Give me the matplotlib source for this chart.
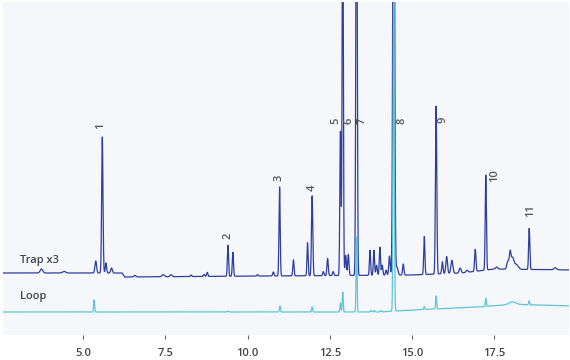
import numpy as np
import matplotlib.pyplot as plt

# retention time (min), peak height, peak width (sigma, min)
trap_rt = [3.73, 4.42, 5.38, 5.58, 5.69, 5.86, 6.57, 7.43, 7.67, 8.28, 8.67, 8.77,
           9.40, 9.55, 10.30, 10.78, 10.97, 11.39, 11.82, 11.96, 12.30, 12.43,
           12.60, 12.82, 12.89, 12.98, 13.06, 13.31, 13.72, 13.84, 13.92, 14.02,
           14.09, 14.21, 14.31, 14.44, 14.54, 14.73, 15.37, 15.73, 15.92, 16.05,
           16.21, 16.46, 16.67, 16.92, 17.24, 17.57, 17.91, 17.98, 18.05, 18.16,
           18.56, 19.35]
trap_h = [4, 1.5, 12, 136, 10, 5, 1.5, 2, 2, 1.5, 2, 4,
          31, 24, 1.5, 4, 89, 16, 33, 80, 4, 17,
          4, 144, 400, 20, 21, 500, 25, 25, 10, 28,
          10, 5, 19, 600, 8, 11, 38, 168, 12, 17,
          13, 5, 2, 22, 95, 2, 8, 16, 11, 5,
          41, 2]
trap_w = [0.04, 0.05, 0.025, 0.02, 0.02, 0.025, 0.03, 0.04, 0.03, 0.02, 0.02, 0.02,
          0.018, 0.018, 0.02, 0.02, 0.018, 0.018, 0.017, 0.02, 0.02, 0.02,
          0.02, 0.018, 0.018, 0.02, 0.02, 0.02, 0.018, 0.018, 0.02, 0.018,
          0.02, 0.02, 0.02, 0.025, 0.03, 0.02, 0.018, 0.02, 0.02, 0.025,
          0.03, 0.03, 0.03, 0.02, 0.018, 0.03, 0.03, 0.025, 0.04, 0.06,
          0.018, 0.04]
trap_base_t = [2.5, 6.18, 6.26, 15.0, 16.5, 17.5, 19.9]
trap_base_y = [62, 62, 58, 60, 62, 66, 65]

loop_rt = [5.33, 9.40, 10.98, 11.96, 12.82, 12.89, 13.31, 13.75, 13.85, 14.05,
           14.44, 15.37, 15.73, 17.24, 18.05, 18.56]
loop_h = [12, 1, 6, 5, 9, 20, 75, 1.5, 1.5, 1.5, 320, 3, 13, 8, 3, 4]
loop_w = [0.015, 0.02, 0.015, 0.015, 0.015, 0.015, 0.015, 0.02, 0.02, 0.02,
          0.018, 0.015, 0.015, 0.015, 0.1, 0.015]
loop_base_t = [2.5, 14.0, 15.0, 17.0, 17.8, 18.3, 19.9]
loop_base_y = [23, 23, 25, 28, 30, 30.5, 29]

peak_names = ["1", "2", "3", "4", "5", "6", "7", "8", "9", "10", "11"]
label_x = [5.52, 9.39, 10.96, 11.95, 12.69, 13.09, 13.48, 14.68, 15.95, 17.52, 18.59]
label_y = [209, 99, 157, 147, 214, 214, 214, 214, 215, 159, 124]

xticks = [5.0, 7.5, 10.0, 12.5, 15.0, 17.5]


def trace(t, rts, hs, ws, bt, by):
    y = np.interp(t, bt, by)
    for rt, h, w in zip(rts, hs, ws):
        y = y + h * np.exp(-0.5 * ((t - rt) / w) ** 2)
    return y


t = np.linspace(2.5, 19.9, 6000)
trap = trace(t, trap_rt, trap_h, trap_w, trap_base_t, trap_base_y)
loop = trace(t, loop_rt, loop_h, loop_w, loop_base_t, loop_base_y)

plt.rcParams['font.family'] = ['Open Sans', 'DejaVu Sans']
fig = plt.figure(figsize=(5.7, 3.6), dpi=100)
ax = fig.add_axes([3 / 570, 25 / 360, 566 / 570, 333 / 360])
ax.set_facecolor('#f5f7fb')
ax.plot(t, trap, color='#2d3e9c', lw=0.9)
ax.plot(t, loop, color='#5cc6d6', lw=0.9)

for name, x, y in zip(peak_names, label_x, label_y):
    ax.text(x, y, name, rotation=90, ha='center', va='center',
            fontsize=8, color='#555555', fontweight='semibold')
ax.text(3.07, 75, "Trap x3", ha='left', va='center', fontsize=8,
        color='#444444', fontweight='semibold')
ax.text(3.07, 38, "Loop", ha='left', va='center', fontsize=8,
        color='#444444', fontweight='semibold')

ax.set_xlim(2.56, 19.77)
ax.set_ylim(0, 333)
ax.set_xticks(xticks)
ax.set_xticklabels([f"{v:.1f}" for v in xticks], fontsize=8,
                   color='#444444', fontweight='semibold')
ax.set_yticks([])
ax.tick_params(axis='x', length=3, color='#666666', pad=6)
for s in ax.spines.values():
    s.set_visible(False)

fig.savefig('out.png', dpi=100, facecolor='white')
